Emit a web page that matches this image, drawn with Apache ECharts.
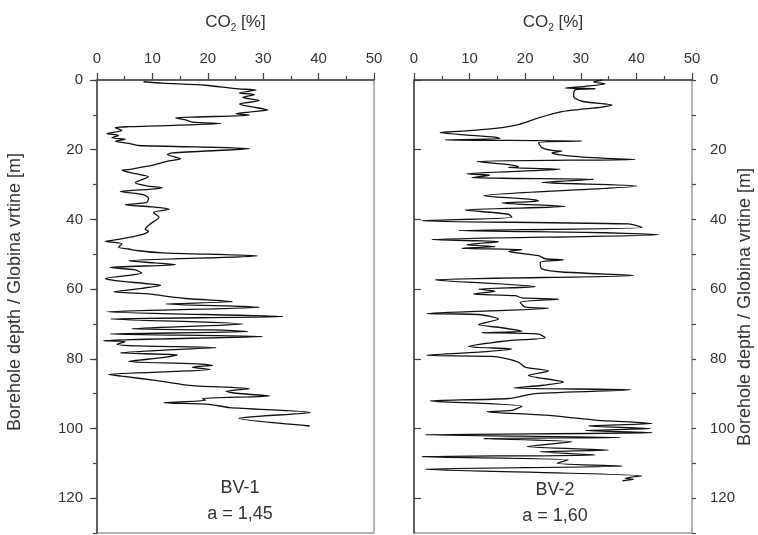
<!DOCTYPE html>
<html>
<head>
<meta charset="utf-8">
<script src="https://cdn.jsdelivr.net/npm/echarts@6/dist/echarts.min.js"></script>
<style>
  html, body { margin: 0; padding: 0; background: #fff; }
  #chart { width: 758px; height: 535px; }
</style>
</head>
<body>
<div id="chart"></div>
<script>
// BV-1 profile: depth [m] and CO2 [%]
const bv1Depth = [0.5, 0.9, 1.5, 2.5, 2.9, 3.7, 4.2, 5.0, 5.9, 6.9, 7.6, 8.6, 9.2, 9.7, 10.1, 10.9, 11.4, 12.1, 12.5,
  13.4, 13.7, 14.5, 15.4, 15.9, 16.6, 17.0, 17.6, 18.2, 18.8, 19.7, 20.9, 21.4, 22.6, 23.2, 24.4, 25.0, 25.6, 25.9,
  26.9, 27.8, 29.4, 30.4, 30.9, 31.4, 32.0, 32.8, 33.9, 35.1, 35.8, 36.4, 37.1, 38.0, 39.4, 41.3, 42.8, 43.4, 44.4,
  45.9, 46.3, 47.0, 48.0, 48.5, 49.0, 49.6, 50.5, 51.9, 52.5, 53.0, 53.8, 54.5, 55.4, 57.0, 57.6, 58.4, 58.9, 59.8,
  60.8, 61.3, 62.7, 63.6, 64.3, 65.2, 66.5, 67.9, 68.6, 70.0, 71.4, 71.7, 71.9, 72.2, 72.9, 73.6, 74.8, 75.1, 75.8,
  76.3, 76.8, 77.4, 78.3, 78.9, 79.6, 80.8, 81.4, 81.9, 82.4, 83.1, 84.5, 85.0, 86.2, 87.4, 87.8, 88.6, 89.3, 89.9,
  90.7, 91.4, 91.9, 92.6, 93.1, 94.0, 95.4, 97.1, 99.3];
const bv1Co2 = [8.4, 11.8, 19.6, 25.0, 28.7, 25.7, 28.4, 26.3, 29.3, 25.7, 27.5, 30.8, 27.5, 25.1, 27.5, 14.2, 15.8, 17.2, 22.4,
  5.7, 3.3, 4.5, 1.8, 3.9, 2.7, 5.1, 3.3, 5.7, 7.5, 27.5, 13.6, 12.7, 15.1, 13.0, 10.2, 8.1, 6.3, 4.5,
  6.9, 9.3, 6.9, 9.0, 11.8, 9.3, 4.2, 8.1, 9.3, 9.0, 5.1, 9.9, 13.0, 10.2, 11.2, 9.6, 8.7, 9.3, 8.1,
  3.3, 1.5, 4.5, 3.9, 5.7, 7.5, 11.8, 29.0, 5.7, 10.5, 14.2, 2.4, 6.9, 8.1, 1.5, 3.3, 8.7, 11.5, 8.1,
  3.0, 8.7, 16.0, 24.5, 12.4, 29.3, 1.8, 33.6, 2.4, 26.3, 6.3, 20.8, 24.5, 27.2, 2.4, 29.9, 1.2, 5.1, 3.6,
  7.5, 21.5, 13.6, 4.2, 14.5, 12.1, 5.7, 17.2, 20.8, 17.2, 20.5, 2.1, 4.5, 10.5, 15.4, 17.8, 27.5, 23.3, 25.1,
  31.2, 19.0, 19.6, 12.1, 20.2, 23.9, 38.5, 25.6, 38.4];

// BV-2 profile: depth [m] and CO2 [%]
const bv2Depth = [0.0, 0.6, 1.1, 1.8, 2.3, 2.5, 2.8, 4.7, 6.1, 7.2, 7.8, 8.5, 9.1, 10.9, 12.8, 13.9, 14.7, 15.1, 15.7,
  16.4, 16.8, 17.2, 17.5, 18.0, 19.4, 20.2, 20.4, 20.9, 21.8, 22.5, 22.8, 23.4, 24.4, 24.9, 25.1, 25.6, 26.9, 27.3,
  28.0, 28.2, 28.5, 29.4, 30.4, 33.2, 34.2, 34.7, 35.3, 36.3, 37.3, 38.5, 39.4, 40.4, 41.3, 42.3, 43.2, 43.7, 44.0,
  44.4, 45.8, 46.4, 47.3, 47.8, 48.3, 48.7, 49.2, 50.4, 51.3, 51.6, 52.3, 54.2, 55.1, 56.1, 57.4, 59.3, 60.0, 60.6,
  61.4, 61.9, 62.5, 62.9, 63.8, 65.2, 65.5, 67.0, 67.3, 68.6, 70.2, 71.1, 72.1, 72.5, 72.9, 74.0, 74.8, 76.5, 77.2,
  78.1, 79.0, 79.3, 79.9, 81.0, 82.4, 83.5, 84.8, 86.7, 87.6, 88.4, 88.9, 90.0, 91.4, 92.1, 93.6, 94.8, 95.2, 96.2,
  97.6, 98.6, 99.3, 100.0, 100.6, 101.2, 101.8, 102.6, 102.9, 103.8, 105.2, 106.2, 106.7, 107.6, 108.1, 109.0,
  110.0, 110.8, 111.7, 113.6, 114.3, 114.6, 115.0];
const bv2Co2 = [33.8, 32.3, 34.4, 30.8, 27.2, 32.6, 29.0, 28.7, 30.2, 35.6, 33.8, 29.6, 26.6, 22.4, 18.8, 14.6, 8.6, 4.7, 8.6,
  14.6, 15.5, 5.6, 30.2, 22.4, 23.0, 24.8, 26.6, 24.8, 27.8, 34.4, 39.8, 11.3, 17.6, 18.8, 17.0, 26.3, 9.5, 13.6,
  10.4, 15.8, 32.3, 23.0, 40.1, 12.5, 20.6, 22.4, 15.8, 27.2, 9.2, 17.0, 17.6, 1.4, 38.6, 41.0, 8.0, 30.8, 38.0,
  44.0, 3.2, 15.2, 9.5, 14.6, 8.6, 19.4, 17.0, 22.4, 23.6, 26.9, 22.7, 23.0, 26.6, 39.5, 3.8, 21.8, 11.6, 14.6,
  10.7, 18.2, 19.4, 26.0, 19.1, 20.0, 24.2, 2.3, 11.6, 15.2, 11.6, 15.8, 19.4, 12.2, 22.4, 23.6, 17.0, 9.8, 17.6,
  11.6, 2.3, 14.0, 16.4, 18.8, 20.0, 24.2, 20.6, 26.9, 23.3, 17.9, 38.9, 21.8, 17.0, 2.9, 19.4, 17.6, 13.1, 23.6,
  32.6, 42.8, 31.4, 42.5, 30.8, 42.8, 2.0, 37.1, 12.5, 28.4, 20.3, 35.0, 22.7, 32.6, 1.4, 27.8,
  25.7, 37.4, 2.0, 41.0, 38.0, 39.5, 37.5];

const xTitle = '{a|CO}{s|2}{a| [%]}'
const depthTitle = 'Borehole depth / Globina vrtine [m]'
const wellNames = ['BV-1', 'BV-2']
const wellParams = ['a = 1,45', 'a = 1,60']

const font = "'Liberation Sans', Arial, sans-serif"
const textColor = '#333'

const pairs = (xs, ys) => xs.map((v, i) => [v, ys[i]])

function co2Axis(gridIndex) {
  return {
    type: 'value',
    gridIndex: gridIndex,
    position: 'top',
    min: 0,
    max: 50,
    interval: 10,
    name: xTitle,
    nameLocation: 'middle',
    nameGap: 47,
    nameTextStyle: {
      rich: {
        a: { fontSize: 17, lineHeight: 22, color: textColor, fontFamily: font },
        s: { fontSize: 10, lineHeight: 10, verticalAlign: 'bottom', color: textColor, fontFamily: font }
      }
    },
    axisLine: { show: true, lineStyle: { color: '#444', width: 1.5 } },
    axisTick: { show: true, length: 7, lineStyle: { color: '#444', width: 1.2 } },
    minorTick: { show: true, splitNumber: 2, length: 4, lineStyle: { color: '#444', width: 1.2 } },
    axisLabel: { fontSize: 15, color: textColor, fontFamily: font, margin: 14 },
    splitLine: { show: false },
    minorSplitLine: { show: false }
  }
}

function depthAxis(gridIndex, side, margin) {
  return {
    type: 'value',
    gridIndex: gridIndex,
    position: side,
    inverse: true,
    min: 0,
    max: 130,
    interval: 20,
    axisLine: { show: true, lineStyle: { color: '#444', width: 1.5 } },
    axisTick: { show: true, length: 7, lineStyle: { color: '#444', width: 1.2 } },
    axisLabel: { fontSize: 15, color: textColor, fontFamily: font, margin: margin, showMaxLabel: false },
    splitLine: { show: false }
  }
}

// minor ticks every 10 m
function depthMinorAxis(gridIndex, side) {
  return {
    type: 'value',
    gridIndex: gridIndex,
    position: side,
    inverse: true,
    min: 0,
    max: 130,
    interval: 10,
    axisLine: { show: false },
    axisTick: { show: true, length: 4, lineStyle: { color: '#444', width: 1.2 } },
    axisLabel: { show: false },
    splitLine: { show: false }
  }
}

function label(x, y, text) {
  return {
    type: 'text',
    x: x,
    y: y,
    style: { text: text, fontSize: 18, fill: textColor, fontFamily: font, align: 'center', verticalAlign: 'middle' }
  }
}

function sideTitle(x, y) {
  return {
    type: 'text',
    x: x,
    y: y,
    rotation: Math.PI / 2,
    style: { text: depthTitle, fontSize: 18, fill: textColor, fontFamily: font, align: 'center', verticalAlign: 'middle' }
  }
}

const chart = echarts.init(document.getElementById('chart'))
chart.setOption({
  animation: false,
  backgroundColor: '#fff',
  grid: [
    { left: 97, top: 80, width: 277, height: 453, show: true, borderColor: '#666', borderWidth: 1 },
    { left: 414, top: 80, width: 278, height: 453, show: true, borderColor: '#666', borderWidth: 1 }
  ],
  xAxis: [co2Axis(0), co2Axis(1)],
  yAxis: [
    depthAxis(0, 'left', 14),
    depthMinorAxis(0, 'left'),
    depthAxis(1, 'right', 18),
    depthMinorAxis(1, 'right')
  ],
  series: [{
    name: wellNames[0],
    type: 'line',
    xAxisIndex: 0,
    yAxisIndex: 0,
    data: pairs(bv1Co2, bv1Depth),
    showSymbol: false,
    smooth: 0.25,
    lineStyle: { color: '#111', width: 1.3 }
  }, {
    name: wellNames[1],
    type: 'line',
    xAxisIndex: 1,
    yAxisIndex: 2,
    data: pairs(bv2Co2, bv2Depth),
    showSymbol: false,
    smooth: 0.25,
    lineStyle: { color: '#111', width: 1.3 }
  }],
  graphic: [
    sideTitle(15, 292),
    sideTitle(745, 307),
    label(240, 488, wellNames[0]),
    label(240, 514, wellParams[0]),
    label(555, 490, wellNames[1]),
    label(555, 516, wellParams[1])
  ]
})
</script>
</body>
</html>
